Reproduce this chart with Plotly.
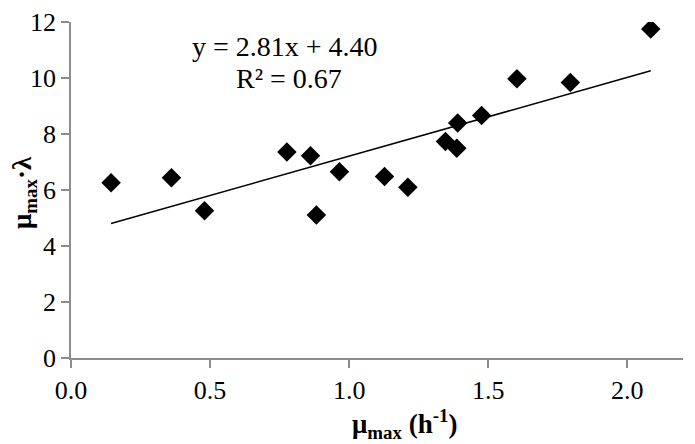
import plotly.graph_objects as go

mu_max = [0.144, 0.361, 0.480, 0.776, 0.861, 0.882, 0.965, 1.127, 1.211, 1.346, 1.387, 1.390, 1.476, 1.603, 1.795, 2.084]
mu_lambda = [6.26, 6.44, 5.26, 7.36, 7.22, 5.11, 6.65, 6.48, 6.10, 7.73, 7.49, 8.39, 8.66, 9.97, 9.84, 11.75]
slope = 2.81
intercept = 4.40
r2 = 0.67

FONT = "Liberation Serif, Times New Roman, serif"
AXC = "#8c8c8c"
OFF = 8  # page body margin
W, H = 695 - OFF, 444 - OFF
L, R, T, B = 71 - OFF, 12, 22 - OFF, 86
PW, PH = W - L - R, H - T - B

def px_x(p):
    return (p - OFF - L) / PW

def px_y(p):
    return (H - B - (p - OFF)) / PH

xmin, xmax = min(mu_max), max(mu_max)
fig = go.Figure()
fig.add_trace(go.Scatter(
    x=mu_max, y=mu_lambda, mode="markers",
    marker=dict(symbol="diamond", size=15, color="black", line=dict(width=0)),
    showlegend=False))
fig.add_trace(go.Scatter(
    x=[xmin, xmax], y=[slope * xmin + intercept, slope * xmax + intercept],
    mode="lines", line=dict(color="black", width=1.5), showlegend=False))

ann = dict(xref="paper", yref="paper", showarrow=False, xanchor="center", yanchor="middle")
fig.update_layout(
    width=W, height=H,
    margin=dict(l=L, r=R, t=T, b=B, autoexpand=False),
    paper_bgcolor="white", plot_bgcolor="white",
    font=dict(family=FONT, size=26, color="black"),
    xaxis=dict(range=[0, 2.2], tickvals=[0, 0.5, 1.0, 1.5, 2.0], ticktext=["0.0", "0.5", "1.0", "1.5", "2.0"],
               showgrid=False, zeroline=False, showline=True, linecolor=AXC, linewidth=1.5,
               ticks="outside", ticklen=8, tickcolor=AXC, tickwidth=1.5, automargin=False),
    yaxis=dict(range=[0, 12], tickvals=[0, 2, 4, 6, 8, 10, 12],
               showgrid=False, zeroline=False, showline=True, linecolor=AXC, linewidth=1.5,
               ticks="outside", ticklen=8, tickcolor=AXC, tickwidth=1.5, automargin=False),
    annotations=[
        dict(text=f"y = {slope:.2f}x + {intercept:.2f}", x=px_x(285), y=px_y(47),
             font=dict(size=28), **ann),
        dict(text=f"R² = {r2:.2f}", x=px_x(289), y=px_y(79),
             font=dict(size=28), **ann),
        dict(text="<b>μ<sub>max</sub> (h<sup>-1</sup>)</b>",
             x=px_x(405), y=px_y(424), font=dict(size=27), **ann),
        dict(text="<b>μ<sub>max</sub>·λ</b>", textangle=-90,
             x=px_x(24), y=px_y(193), font=dict(size=27), **ann),
    ],
)
fig.write_html("out.html")
